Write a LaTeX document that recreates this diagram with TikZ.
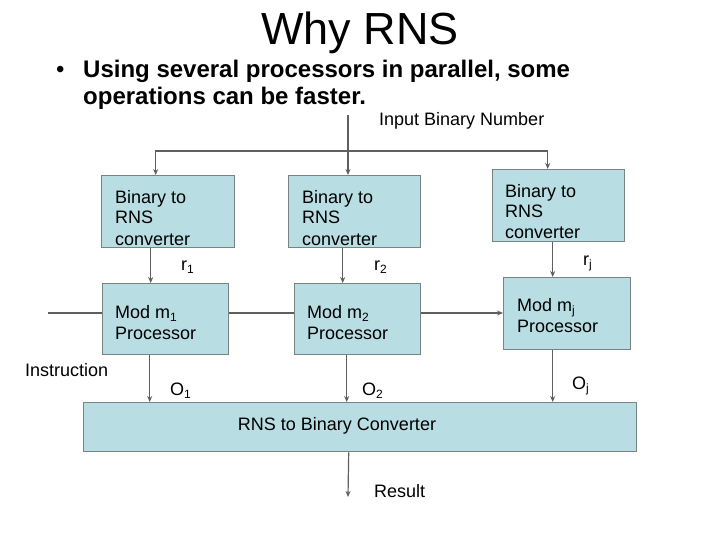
\documentclass[tikz,border=0pt]{standalone}
\usepackage{fontspec}
\setmainfont{Liberation Sans}
\usetikzlibrary{arrows.meta}
\definecolor{boxfill}{RGB}{184,221,226}
\definecolor{boxline}{RGB}{120,132,132}
\definecolor{wire}{RGB}{95,95,95}
\newcommand{\subtxt}[1]{\raisebox{-0.35ex}{\fontsize{12}{12}\selectfont #1}}
\tikzset{
  blk/.style={draw=boxline, fill=boxfill, line width=1.4pt, anchor=north west, inner sep=0pt},
  lbl/.style={font=\fontsize{18}{21}\selectfont, align=left, anchor=base west, inner sep=0pt},
  arr/.style={draw=wire, line width=1.2pt, -{Stealth[length=6pt,width=5pt]}},
  ln/.style={draw=wire, line width=1.2pt}
}
\begin{document}
\begin{tikzpicture}[x=1pt, y=-1pt]
  \useasboundingbox (0,0) rectangle (720,540);
  % title and bullet
  \node[inner sep=0pt, anchor=base, font=\fontsize{45}{50}\selectfont] (title) at (360,45) {Why RNS};
  \node[inner sep=0pt, anchor=base west, font=\fontsize{24}{27}\selectfont] (dot) at (56,78) {•};
  \node[inner sep=0pt, anchor=base west, align=left, font=\bfseries\fontsize{24}{27}\selectfont] (point) at (83,105)
    {Using several processors in parallel, some\\operations can be faster.};

  % blocks
  \node[blk, minimum width=133pt, minimum height=72pt] (b1) at (101,175) {};
  \node[blk, minimum width=132pt, minimum height=72pt] (b2) at (288,175) {};
  \node[blk, minimum width=132pt, minimum height=72pt] (b3) at (492,169) {};
  \node[blk, minimum width=126pt, minimum height=71pt] (p1) at (102,283) {};
  \node[blk, minimum width=126pt, minimum height=71pt] (p2) at (294,283) {};
  \node[blk, minimum width=127pt, minimum height=72pt] (p3) at (503,277) {};
  \node[blk, minimum width=553pt, minimum height=49pt] (conv) at (83,402) {};

  % block texts (base = last line)
  \node[lbl] (b1t) at ([shift={(14,70)}]b1.north west) {Binary to\\RNS\\converter};
  \node[lbl] (b2t) at ([shift={(14,70)}]b2.north west) {Binary to\\RNS\\converter};
  \node[lbl] (b3t) at ([shift={(13,70)}]b3.north west) {Binary to\\RNS\\converter};
  \node[lbl] (p1t) at ([shift={(13,56)}]p1.north west) {Mod m\subtxt{1}\\Processor};
  \node[lbl] (p2t) at ([shift={(13,56)}]p2.north west) {Mod m\subtxt{2}\\Processor};
  \node[lbl] (p3t) at ([shift={(14,55)}]p3.north west) {Mod m\subtxt{j}\\Processor};
  \node[lbl, anchor=base] (convt) at (337,430) {RNS to Binary Converter};

  % input
  \coordinate (in) at (348,115);
  \coordinate (split) at (348,151);
  \node[lbl] (inlbl) at (379,126) {Input Binary Number};
  \draw[arr] (in) -- (in |- b2.north);
  \draw[arr] (split) -| ([xshift=-12.5pt]b1.north);
  \draw[arr] (split) -| ([xshift=-11pt]b3.north);

  % residues
  \draw[arr] ([xshift=-17.5pt]b1.south) -- ([xshift=-17.5pt]b1.south |- p1.north);
  \draw[arr] ([xshift=-12pt]b2.south) -- ([xshift=-12pt]b2.south |- p2.north);
  \draw[arr] ([xshift=-6pt]b3.south) -- ([xshift=-6pt]b3.south |- p3.north);
  \node[lbl] (r1) at (181,270) {r\subtxt{1}};
  \node[lbl] (r2) at (374,270) {r\subtxt{2}};
  \node[lbl] (rj) at (583,265) {r\subtxt{j}};

  % instruction
  \coordinate (instr) at (48,313);
  \node[lbl] (instrlbl) at (25,376) {Instruction};
  \draw[ln] (instr) -- (instr -| p1.west);
  \draw[ln] (p1.east |- instr) -- (p2.west |- instr);
  \draw[arr] (p2.east |- instr) -- (p3.west |- instr);

  % outputs
  \draw[arr] ([xshift=-16pt]p1.south) -- ([xshift=-16pt]p1.south |- conv.north);
  \draw[arr] ([xshift=-11pt]p2.south) -- ([xshift=-11pt]p2.south |- conv.north);
  \draw[arr] ([xshift=-14.5pt]p3.south) -- ([xshift=-14.5pt]p3.south |- conv.north);
  \node[lbl] (o1) at (170,395) {O\subtxt{1}};
  \node[lbl] (o2) at (362,395) {O\subtxt{2}};
  \node[lbl] (oj) at (572,389) {O\subtxt{j}};

  % result
  \coordinate (res) at (348,497);
  \node[lbl] (reslbl) at (374,497) {Result};
  \draw[arr] ([xshift=-11.5pt]conv.south) -- (res);
\end{tikzpicture}
\end{document}
